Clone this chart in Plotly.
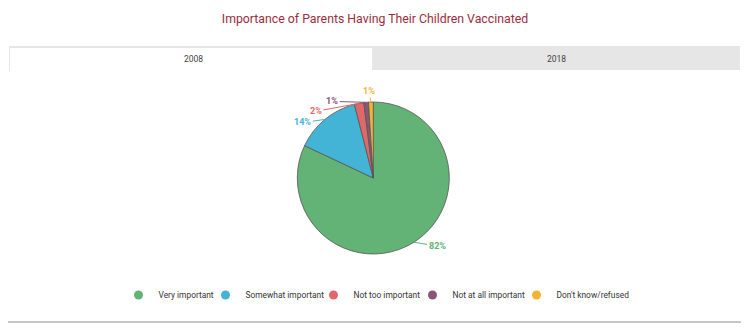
import math
import plotly.graph_objects as go

# Survey responses, 2008
categories = ["Very important", "Somewhat important", "Not too important",
              "Not at all important", "Don't know/refused"]
shares_2008 = [82, 14, 2, 1, 1]
tab_labels = ["2008", "2018"]

colors = ["#63b276", "#43b3d6", "#e06868", "#8a5578", "#f5b335"]
W, H = 750, 331

# pie geometry (pixels)
CX, CY, R = 373.3, 178.0, 76.0

# label offsets (pixels) from each slice's outer edge
label_offsets = [(23, 4), (-22, 3), (-43, 8), (-34, -1), (-2, -11)]
# legend entry widths (pixels)
legend_widths = [42, 63, 54, 59, 70]


def px(x):
    return x / W


def py(y):
    return 1 - y / H


fig = go.Figure()

fig.add_trace(go.Pie(
    labels=categories,
    values=shares_2008,
    sort=False,
    direction="clockwise",
    rotation=0,
    marker=dict(colors=colors, line=dict(color="#555555", width=0.8)),
    textinfo="none",
    hoverinfo="skip",
    showlegend=False,
    domain=dict(x=[px(CX - R), px(CX + R)], y=[py(CY + R), py(CY - R)]),
))

# Legend entries with round markers
for name, col, lw in zip(categories, colors, legend_widths):
    fig.add_trace(go.Scatter(
        x=[None], y=[None], mode="markers", name=name,
        marker=dict(symbol="circle", size=9, color=col),
        hoverinfo="skip", legendwidth=lw,
    ))

shapes = [
    # tab strip
    dict(type="rect", xref="paper", yref="paper",
         x0=px(372), x1=px(740), y0=py(70), y1=py(46),
         fillcolor="#e6e6e6", line=dict(width=0)),
    dict(type="rect", xref="paper", yref="paper",
         x0=px(9), x1=px(372), y0=py(71), y1=py(46),
         fillcolor="#e6e6e6", line=dict(width=0)),
    dict(type="rect", xref="paper", yref="paper",
         x0=px(10), x1=px(372), y0=py(71), y1=py(48),
         fillcolor="#ffffff", line=dict(width=0)),
    # bottom rule
    dict(type="line", xref="paper", yref="paper",
         x0=px(8), x1=px(741), y0=py(322), y1=py(322),
         line=dict(color="#c6c6c6", width=2)),
]

annotations = [
    dict(text=tab_labels[0], x=px(193), y=py(58.5), xref="paper", yref="paper",
         xanchor="center", yanchor="middle", showarrow=False,
         font=dict(family="Roboto", size=8.5, color="#444444")),
    dict(text=tab_labels[1], x=px(556), y=py(58.5), xref="paper", yref="paper",
         xanchor="center", yanchor="middle", showarrow=False,
         font=dict(family="Roboto", size=8.5, color="#444444")),
]

# Percentage labels with connectors, anchored at each slice's mid-angle on the rim
total = sum(shares_2008)
cum = 0.0
for val, col, (ax, ay) in zip(shares_2008, colors, label_offsets):
    mid = (cum + val / 2) / total * 2 * math.pi
    cum += val
    ex = CX + R * math.sin(mid)
    ey = CY - R * math.cos(mid)
    annotations.append(dict(
        text=f"<b>{val}%</b>", x=px(ex), y=py(ey), xref="paper", yref="paper",
        ax=ax, ay=ay, axref="pixel", ayref="pixel",
        showarrow=True, arrowhead=0, arrowwidth=1, arrowcolor=col, standoff=0,
        font=dict(family="Roboto", size=9, color=col),
    ))

fig.update_layout(
    width=W, height=H,
    margin=dict(l=0, r=0, t=0, b=0),
    paper_bgcolor="white", plot_bgcolor="white",
    title=dict(text="Importance of Parents Having Their Children Vaccinated",
               x=0.5, xanchor="center", y=py(19), yanchor="middle",
               font=dict(family="Roboto", size=12.3, color="#9b2d3c")),
    xaxis=dict(visible=False), yaxis=dict(visible=False),
    legend=dict(orientation="h", x=0.5, xanchor="center", y=py(295), yanchor="middle",
                font=dict(family="Roboto", size=8.4, color="#333333"),
                itemclick=False, itemdoubleclick=False),
    shapes=shapes,
    annotations=annotations,
)

fig.write_html("out.html")
